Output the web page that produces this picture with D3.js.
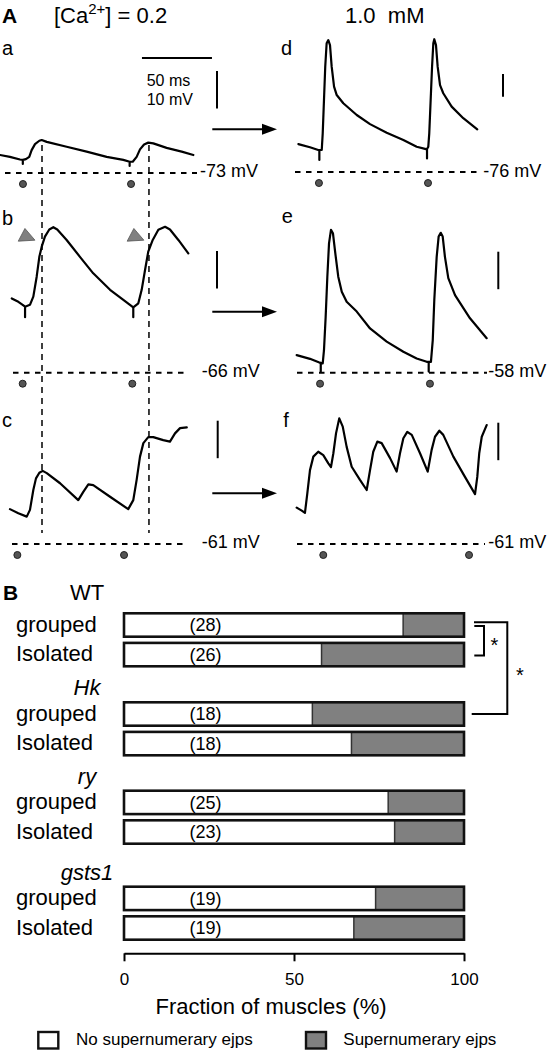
<!DOCTYPE html>
<html><head><meta charset="utf-8">
<script src="https://cdn.jsdelivr.net/npm/d3@7"></script>
<style>html,body{margin:0;padding:0;background:#fff;}svg{display:block;}</style>
</head><body>
<script>
// ---------------- DATA ----------------
// Panel A traces: [time (ms), membrane potential (mV)]
const traceA = [[0,-68.2],[7.1,-68.7],[14.3,-69.4],[16.3,-69.5],[16.3,-70.6],[16.3,-69.5],[18.5,-69.3],[20.9,-68.7],[22.6,-66.9],[25,-65.3],[28.1,-64.4],[29.8,-64.2],[33.4,-64.7],[47.6,-66],[61.9,-67.3],[76.2,-68.7],[88.1,-69.5],[92.6,-70],[92.6,-71.1],[92.6,-70],[94.8,-70],[97.6,-68.7],[100,-66.7],[102.9,-65.4],[105.9,-64.9],[109.5,-65.1],[119,-66.3],[129.8,-67.3],[138.1,-68.2]];
const traceB = [[8.4,-46.2],[13.1,-47.1],[16.2,-47.9],[17.9,-48.4],[17.9,-51.2],[17.9,-48.4],[21.4,-47.9],[23.8,-45.7],[26.2,-40.4],[28.1,-35.1],[29.8,-32.4],[32.1,-29.7],[35.2,-27.8],[38.1,-27.2],[40.9,-27.8],[47.6,-30.6],[57.1,-35.1],[66.6,-39.5],[78.6,-43.9],[88.1,-46.6],[95.2,-48.6],[95.2,-51.2],[95.2,-48.6],[98.8,-47.5],[101.2,-43.9],[103.6,-38.6],[105.9,-33.7],[109.1,-30.6],[113.1,-27.9],[117.9,-27.1],[121.4,-27.8],[127.4,-30.6],[134.5,-34.2]];
const traceC = [[7.1,-51.7],[13.1,-52.8],[19.1,-53.7],[21.4,-51.9],[23.8,-46.6],[25.7,-43.5],[28.1,-42.0],[30.5,-41.5],[33.4,-42.1],[42.9,-44.8],[55.9,-49.3],[59.5,-47.1],[63.1,-45.1],[66.6,-45.3],[78.6,-48.4],[91.6,-51.7],[95.2,-49.3],[97.6,-43.9],[100,-37.7],[102.4,-34.1],[105.9,-32.5],[109.5,-32.5],[116.6,-33.3],[121.4,-33.7],[125,-31.5],[128.6,-30.1],[133.4,-29.9]];
const traceD = [[2.4,-63.7],[10.7,-65.1],[16.6,-66.3],[17.4,-66.3],[17.4,-70.7],[17.4,-66.3],[19.1,-66.3],[19.8,-59.0],[20.7,-44.3],[21.6,-29.6],[22.6,-19.3],[23.8,-17.9],[25,-20.1],[26.2,-29.6],[27.9,-38.4],[29.8,-42.1],[34.5,-45.7],[44.1,-50.9],[53.6,-54.9],[65.5,-58.7],[77.4,-61.9],[86.9,-64.9],[93.6,-65.9],[94.3,-65.9],[94.3,-70.0],[94.3,-65.9],[95.2,-64.9],[95.9,-59.0],[96.9,-44.3],[97.9,-29.6],[98.8,-19.3],[99.5,-17.5],[100.7,-20.1],[101.9,-29.6],[103.6,-37.7],[105.9,-41.3],[111.9,-47.2],[120.2,-52.3],[130.2,-57.2]];
const traceE = [[1.2,-53.3],[10.7,-54.3],[17.4,-55.3],[18.4,-55.4],[18.4,-57.7],[18.4,-55.4],[19.8,-55.5],[20.7,-52.0],[21.9,-43.1],[23.1,-32.4],[24.3,-23.5],[25.7,-19.9],[27.1,-20.8],[28.8,-26.2],[30.9,-32.4],[33.4,-36.4],[36.9,-39.1],[44.1,-41.7],[53.6,-46.2],[65.5,-49.7],[77.4,-52.4],[86.9,-54.2],[94.1,-55.1],[95.5,-55.1],[95.5,-57.7],[95.5,-55.1],[97.1,-55.1],[98.4,-49.3],[99.5,-38.6],[101.2,-27.1],[102.6,-21.7],[104.1,-20.7],[105.5,-21.7],[107.1,-27.1],[109.5,-32.8],[114.3,-37.3],[125,-43.5],[136.9,-48.8]];
const traceF = [[1.2,-51.3],[4.8,-52.1],[7.1,-52.7],[8.8,-47.5],[10.7,-41.3],[13.1,-37.7],[16.6,-36.4],[20.2,-37.3],[23.8,-39.5],[25.7,-40.5],[27.4,-36.8],[29.3,-31.5],[31.6,-27.5],[34.1,-29.7],[36.9,-35.1],[40.5,-40.4],[46.4,-43.9],[51.2,-46.6],[53.6,-41.3],[55.9,-36.4],[58.8,-33.7],[61.9,-34.1],[67.9,-38.1],[72.6,-41.7],[75,-36.8],[77.4,-32.8],[80.2,-31.1],[83.4,-31.9],[89.3,-36.8],[94.8,-41.7],[97.6,-35.9],[100,-32.4],[103.1,-30.8],[105.9,-31.9],[113.1,-37.7],[121.4,-43.1],[128.6,-47.7],[130.2,-43.1],[131.6,-36.8],[133.4,-32.4],[136.9,-29.3]];
// stimulus times (ms) for each trace
const stimA = [16.4, 93.6];
const stimB = [16.2, 94.5];
const stimC = [12.4, 88.6];
const stimD = [17.1, 95.0];
const stimE = [17.9, 96.4];
const stimF = [20.2, 124.3];
// reference potentials (mV)
const refPotentials = [-73, -66, -61, -76, -58, -61];
const refLabels = ["-73 mV", "-66 mV", "-61 mV", "-76 mV", "-58 mV", "-61 mV"];
// vertical guide times in left column (ms)
const guideTimes = [30, 106.4];
// arrowhead markers in trace b [ms, mV]
const markersB = [[18.6, -29.7], [96.4, -29.7]];
const scaleBarMs = 50, scaleBarMv = 10;

// Panel B
const genotypes = ["WT", "Hk", "ry", "gsts1"];
const conditions = ["grouped", "Isolated"];
const noSuperPct = [82.1, 58.1, 55.4, 66.9, 77.7, 79.6, 74.0, 67.6];
const nMuscles = [28, 26, 18, 18, 25, 23, 19, 19];
const xTicks = [0, 50, 100];
const legendLabels = ["No supernumerary ejps", "Supernumerary ejps"];

// ---------------- DRAW ----------------
const svg = d3.select("body").append("svg")
  .attr("width", 548).attr("height", 1050)
  .style("font-family", "'Liberation Sans', Arial, Helvetica, sans-serif");

// Time scales for the two columns
const xLeft = d3.scaleLinear().domain([0, 200]).range([0, 280]);
const xRight = d3.scaleLinear().domain([0, 200]).range([295, 575]);

const panels = [
  {letter:"a", data:traceA, stim:stimA, x:xLeft,  yBase:173,   px10:37.5, dash:[5,197],   lab:[200,176.7],   let:[2,55],      bar:[217,71]},
  {letter:"b", data:traceB, stim:stimB, x:xLeft,  yBase:372.7, px10:37.5, dash:[13,185],  lab:[201.7,376.7], let:[2,225],     bar:[217,251]},
  {letter:"c", data:traceC, stim:stimC, x:xLeft,  yBase:544,   px10:37.5, dash:[12,185],  lab:[201.7,548.3], let:[2,426.7],   bar:[217.7,420.7]},
  {letter:"d", data:traceD, stim:stimD, x:xRight, yBase:172,   px10:22.7, dash:[295,480], lab:[483.3,176.7], let:[281,55],    bar:[503,74]},
  {letter:"e", data:traceE, stim:stimE, x:xRight, yBase:372.7, px10:37.5, dash:[297,487], lab:[488.3,376.7], let:[281.7,223.3],bar:[498.3,251.7]},
  {letter:"f", data:traceF, stim:stimF, x:xRight, yBase:544,   px10:37.5, dash:[297,485], lab:[488.3,548.3], let:[283.3,426.7],bar:[498.3,422.7]}
];

// headers
svg.append("text").attr("x", 2).attr("y", 23).attr("font-size", 21).attr("font-weight", "bold").text("A");
const t1 = svg.append("text").attr("x", 54).attr("y", 23).attr("font-size", 22);
t1.append("tspan").text("[Ca");
t1.append("tspan").attr("font-size", 15).attr("dy", -9).text("2+");
t1.append("tspan").attr("dy", 9).text("] = 0.2");
svg.append("text").attr("x", 345).attr("y", 23).attr("font-size", 22).style("white-space", "pre").text("1.0  mM");

// time scale bar
svg.append("line").attr("x1", xLeft(101.4)).attr("x2", xLeft(101.4 + scaleBarMs))
  .attr("y1", 58).attr("y2", 58).attr("stroke", "#000").attr("stroke-width", 2);
svg.append("text").attr("x", 146.7).attr("y", 86).attr("font-size", 16).text(scaleBarMs + " ms");
svg.append("text").attr("x", 146.7).attr("y", 104.5).attr("font-size", 16).text(scaleBarMv + " mV");

panels.forEach((p, i) => {
  const ref = refPotentials[i];
  const y = d3.scaleLinear().domain([ref, ref + 10]).range([p.yBase, p.yBase - p.px10]);
  const g = svg.append("g");
  // dashed reference line
  g.append("line").attr("x1", p.dash[0]).attr("x2", p.dash[1])
    .attr("y1", y(ref)).attr("y2", y(ref))
    .attr("stroke", "#000").attr("stroke-width", 2).attr("stroke-dasharray", "5.5,5.5");
  g.append("text").attr("x", p.lab[0]).attr("y", p.lab[1]).attr("font-size", 18).text(refLabels[i]);
  // trace
  const line = d3.line().x(d => p.x(d[0])).y(d => y(d[1]));
  g.append("path").datum(p.data).attr("d", line)
    .attr("fill", "none").attr("stroke", "#000").attr("stroke-width", 2.2)
    .attr("stroke-linejoin", "round").attr("stroke-linecap", "round");
  // stimulus dots
  g.selectAll("circle").data(p.stim).join("circle")
    .attr("cx", d => p.x(d)).attr("cy", y(ref) + 11).attr("r", 3.5)
    .attr("fill", "#555").attr("stroke", "#222").attr("stroke-width", 1);
  // panel letter
  g.append("text").attr("x", p.let[0]).attr("y", p.let[1]).attr("font-size", 20).text(p.letter);
  // vertical 10 mV scale bar
  const barLen = y(ref) - y(ref + scaleBarMv);
  g.append("line").attr("x1", p.bar[0]).attr("x2", p.bar[0])
    .attr("y1", p.bar[1]).attr("y2", p.bar[1] + barLen)
    .attr("stroke", "#000").attr("stroke-width", 2);
  if (p.letter === "b") {
    g.selectAll("path.mk").data(markersB).join("path").attr("class", "mk")
      .attr("d", d => {
        const cx = p.x(d[0]), cy = y(d[1]);
        return `M${cx-1.1},${cy-8.1}L${cx+8.9},${cy+3.6}L${cx-7.8},${cy+4.6}Z`;
      })
      .attr("fill", "#808080").attr("stroke", "#555").attr("stroke-width", 0.8);
  }
});

// vertical dashed guides through left column
svg.selectAll("line.guide").data(guideTimes).join("line").attr("class", "guide")
  .attr("x1", d => xLeft(d)).attr("x2", d => xLeft(d))
  .attr("y1", 145).attr("y2", 533)
  .attr("stroke", "#000").attr("stroke-width", 1.5).attr("stroke-dasharray", "6,5");

// arrows
[129.3, 311.7, 493.3].forEach(ay => {
  svg.append("line").attr("x1", 212.3).attr("x2", 264).attr("y1", ay).attr("y2", ay)
    .attr("stroke", "#000").attr("stroke-width", 2);
  svg.append("path").attr("d", `M262,${ay-5.5}L277,${ay}L262,${ay+5.5}Z`).attr("fill", "#000");
});

// ---------------- PANEL B ----------------
const xb = d3.scaleLinear().domain([0, 100]).range([124, 464]);
const groupTop = [613.3, 702.3, 790.7, 886.7];
const barH = 23.4, rowStep = 29.6;
const rows = [];
genotypes.forEach((gname, gi) => conditions.forEach((c, ci) => {
  const idx = gi * 2 + ci;
  rows.push({g: gname, c, pct: noSuperPct[idx], n: nMuscles[idx], y: groupTop[gi] + ci * rowStep});
}));

svg.append("text").attr("x", 3).attr("y", 600).attr("font-size", 21).attr("font-weight", "bold").text("B");
genotypes.forEach((gname, gi) => {
  svg.append("text").attr("x", 87).attr("y", gi === 0 ? 600 : groupTop[gi] - 7)
    .attr("text-anchor", "middle").attr("font-size", 22)
    .attr("font-style", gi === 0 ? "normal" : "italic").text(gname);
});

const rg = svg.selectAll("g.row").data(rows).join("g").attr("class", "row");
rg.append("rect").attr("x", d => xb(d.pct)).attr("y", d => d.y)
  .attr("width", d => xb(100) - xb(d.pct)).attr("height", barH).attr("fill", "#808080");
rg.append("rect").attr("x", xb(0)).attr("y", d => d.y)
  .attr("width", d => xb(d.pct) - xb(0)).attr("height", barH).attr("fill", "#fff");
rg.append("line").attr("x1", d => xb(d.pct)).attr("x2", d => xb(d.pct))
  .attr("y1", d => d.y).attr("y2", d => d.y + barH).attr("stroke", "#333").attr("stroke-width", 1.5);
rg.append("rect").attr("x", xb(0)).attr("y", d => d.y)
  .attr("width", xb(100) - xb(0)).attr("height", barH)
  .attr("fill", "none").attr("stroke", "#111").attr("stroke-width", 2.6);
rg.append("text").attr("x", xb(24)).attr("y", d => d.y + barH / 2 + 6.3)
  .attr("text-anchor", "middle").attr("font-size", 18).text(d => `(${d.n})`);
rg.append("text").attr("x", 16).attr("y", d => d.y + barH / 2 + 6.5)
  .attr("font-size", 22).text(d => d.c);

// significance brackets
const cy = i => rows[i].y + barH / 2;
svg.append("path").attr("d", `M474.3,${cy(0)+1}H484V${cy(1)+1}H474.3`)
  .attr("fill", "none").attr("stroke", "#000").attr("stroke-width", 2);
svg.append("path").attr("d", `M474,${cy(0)-2.7}H507.3V${cy(2)}H471.7`)
  .attr("fill", "none").attr("stroke", "#000").attr("stroke-width", 2);
svg.append("text").attr("x", 494.3).attr("y", (cy(0) + cy(1)) / 2 + 12.5).attr("text-anchor", "middle").attr("font-size", 20).text("*");
svg.append("text").attr("x", 520).attr("y", (cy(0) + cy(2)) / 2 + 12.5).attr("text-anchor", "middle").attr("font-size", 20).text("*");

// x axis
const ax = svg.append("g").attr("transform", "translate(0,953.3)")
  .call(d3.axisBottom(xb).tickValues(xTicks).tickSize(8).tickSizeOuter(0).tickFormat(d3.format("d")));
ax.select(".domain").attr("stroke", "#000").attr("stroke-width", 2);
ax.selectAll(".tick line").attr("stroke", "#000").attr("stroke-width", 2);
ax.selectAll(".tick text").attr("y", 20).attr("font-size", 17).attr("fill", "#000")
  .attr("font-family", "'Liberation Sans', Arial, sans-serif");
svg.append("text").attr("x", 271).attr("y", 1014).attr("text-anchor", "middle").attr("font-size", 22)
  .text("Fraction of muscles (%)");

// legend
const legX = [[38.3, 76], [306, 343.3]];
legendLabels.forEach((lab, i) => {
  svg.append("rect").attr("x", legX[i][0]).attr("y", 1032).attr("width", 20).attr("height", 16.5)
    .attr("fill", i === 0 ? "#fff" : "#808080").attr("stroke", "#111").attr("stroke-width", 2.4);
  svg.append("text").attr("x", legX[i][1]).attr("y", 1045).attr("font-size", 17).text(lab);
});
</script>
</body></html>
